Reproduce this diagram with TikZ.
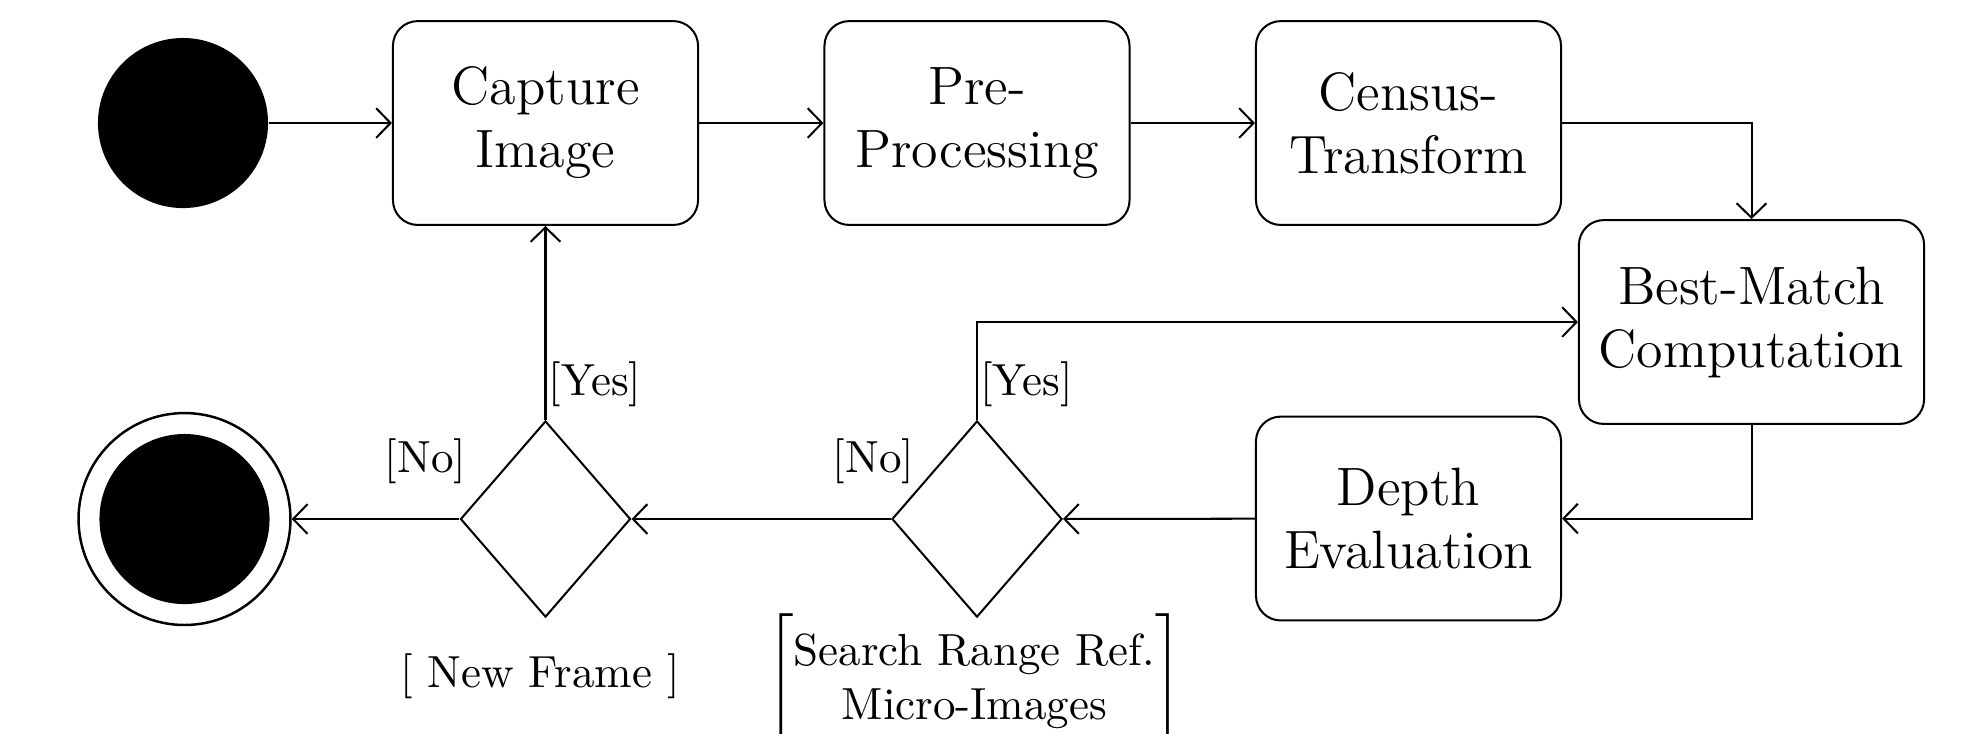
\documentclass[tikz,border=0pt]{standalone}
\usetikzlibrary{shapes.geometric,arrows.meta}
\begin{document}
\begin{tikzpicture}[x=0.222222pt,y=-0.222222pt,
  line width=0.45pt,
  >={Straight Barb[length=3.2pt,width=6.6pt]},
  actbox/.style={draw,rounded corners=5.5pt,minimum width=67.8pt,minimum height=45.3pt,
    align=center,font=\large,inner sep=0pt},
  decision/.style={draw,diamond,shape aspect=0.87,minimum width=37.8pt,
    minimum height=43.6pt,inner sep=0pt},
  dot/.style={circle,fill,minimum size=37.8pt,inner sep=0pt},
  guard/.style={inner sep=0pt,font=\normalsize},
  flow/.style={->}]
\useasboundingbox (0,0) rectangle (1968,733);

% initial and final states
\node[dot] (start) at (183,123) {};
\node[circle,draw,line width=0.55pt,minimum size=47.1pt,inner sep=0pt] (stop) at (184.5,519) {};
\node[dot] (stopdot) at (stop.center) {};

% activities
\node[actbox] (capture) at (545.5,123) {Capture\\Image};
\node[actbox] (pre) at (977,123) {Pre-\\Processing};
\node[actbox] (census) at (1408.5,123) {Census-\\Transform};
\node[actbox,minimum width=76.7pt] (bm) at (1751.5,322) {Best-Match\\Computation};
\node[actbox] (depth) at (1408.5,518.5) {Depth\\Evaluation};

% decisions
\node[decision] (newframe) at (545.5,519) {};
\node[decision] (search) at (977,519) {};

% control flow
\draw[flow] (start) -- (capture);
\draw[flow] (capture) -- (pre);
\draw[flow] (pre) -- (census);
\draw[flow] (census) -| (bm);
\draw[flow] (bm) |- (depth);
\draw[flow] (depth) -- (search);
\draw[flow] (search) -- (newframe);
\draw[flow] (newframe) -- (stop);
\draw[flow] (newframe) -- (capture);
\draw[flow] (search) |- (bm);

% guards
\node[guard] (yes1) at (595,384.5) {[Yes]};
\node[guard] (yes2) at (1026.5,384.5) {[Yes]};
\node[guard] (no1) at (425.5,461.5) {[No]};
\node[guard] (no2) at (873.5,461.5) {[No]};
\node[guard] (nfguard) at (540,676.5) {[ New Frame ]};
\node[guard,anchor=north] (srguard) at (974.5,613)
  {$\left[\vrule height 16.5pt depth 11.5pt width 0pt
    \begin{tabular}{@{}c@{}}Search Range Ref.\\Micro-Images\end{tabular}\right]$};
\end{tikzpicture}
\end{document}
